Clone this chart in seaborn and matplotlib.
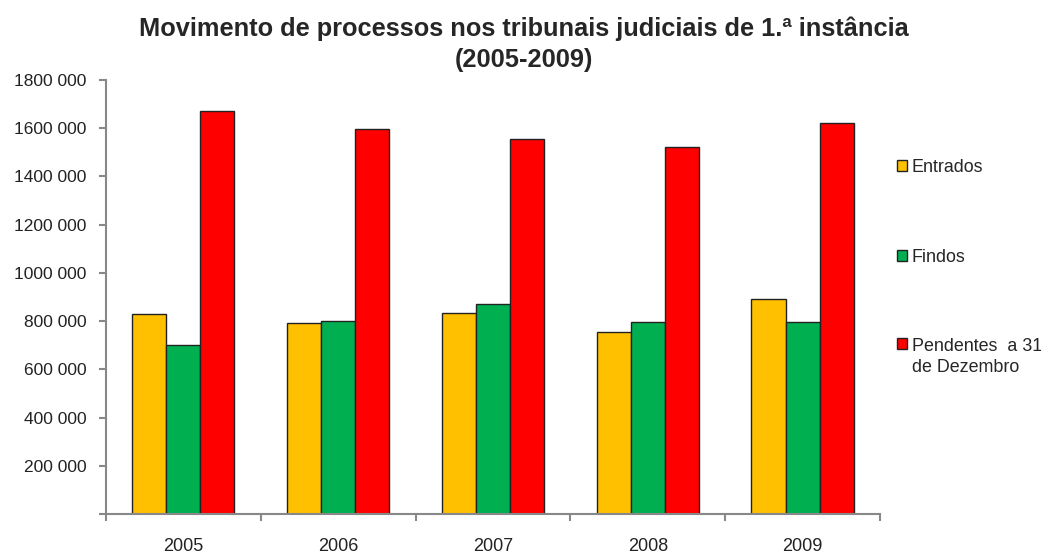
import pandas as pd
import matplotlib.pyplot as plt
import seaborn as sns
from matplotlib.ticker import FixedLocator

years = ['2005', '2006', '2007', '2008', '2009']
entrados = [831000, 793000, 835000, 756000, 892000]
findos = [701000, 800000, 870000, 795000, 795000]
pendentes = [1673000, 1598000, 1557000, 1522000, 1620000]
series_names = ['Entrados', 'Findos', 'Pendentes  a 31\nde Dezembro']
colors = ['#FFC000', '#00B050', '#FF0000']
y_ticks = [0, 200000, 400000, 600000, 800000, 1000000, 1200000, 1400000, 1600000, 1800000]

data = pd.DataFrame({
    'Ano': years * 3,
    'Serie': [series_names[0]] * 5 + [series_names[1]] * 5 + [series_names[2]] * 5,
    'Valor': entrados + findos + pendentes,
})

sns.set_style('white')
plt.rcParams['font.family'] = ['Liberation Sans', 'DejaVu Sans']

fig = plt.figure(figsize=(10.41, 5.54), dpi=100)
ax = fig.add_axes([0.1018, 0.0722, 0.7435, 0.7834])

sns.barplot(data=data, x='Ano', y='Valor', hue='Serie', palette=colors,
            width=0.66, edgecolor='#222222', linewidth=1.0, saturation=1,
            ax=ax)

ax.set_ylim(0, 1800000)
ax.set_xlim(-0.5, 4.5)
ax.set_yticks(y_ticks)
ax.set_yticklabels(['' if v == 0 else f'{v // 1000} 000' for v in y_ticks])
ax.set_xlabel('')
ax.set_ylabel('')

# ticks at category boundaries, labels at centres
ax.xaxis.set_minor_locator(FixedLocator([i - 0.5 for i in range(6)]))
ax.tick_params(axis='x', which='major', length=0, pad=17, labelsize=13, labelcolor='#222222')
ax.tick_params(axis='x', which='minor', length=5, width=1.5, color='#888888', direction='out', bottom=True)
ax.tick_params(axis='y', length=5, width=1.5, color='#888888', direction='out', left=True,
               pad=9, labelsize=12.5, labelcolor='#222222')

sns.despine(ax=ax)
for side in ['left', 'bottom']:
    ax.spines[side].set_color('#888888')
    ax.spines[side].set_linewidth(1.5)

leg = ax.legend(loc='upper left', bbox_to_anchor=(0.862, 0.713), bbox_transform=fig.transFigure,
                frameon=False, fontsize=12.9, labelspacing=4.05, handlelength=0.55,
                handleheight=0.55, handletextpad=0.25, borderpad=0, borderaxespad=0)
leg.get_texts()[2].set_linespacing(1.3)
# keep the handle of the two-line entry beside its first line
rows = leg._legend_handle_box.get_children()[0].get_children()
rows[2].align = 'top'

fig.text(0.503, 0.920, 'Movimento de processos nos tribunais judiciais de 1.ª instância\n(2005-2009)',
         ha='center', va='center', fontsize=18.3, fontweight='bold', linespacing=1.4)

fig.savefig('out.png', dpi=100)
